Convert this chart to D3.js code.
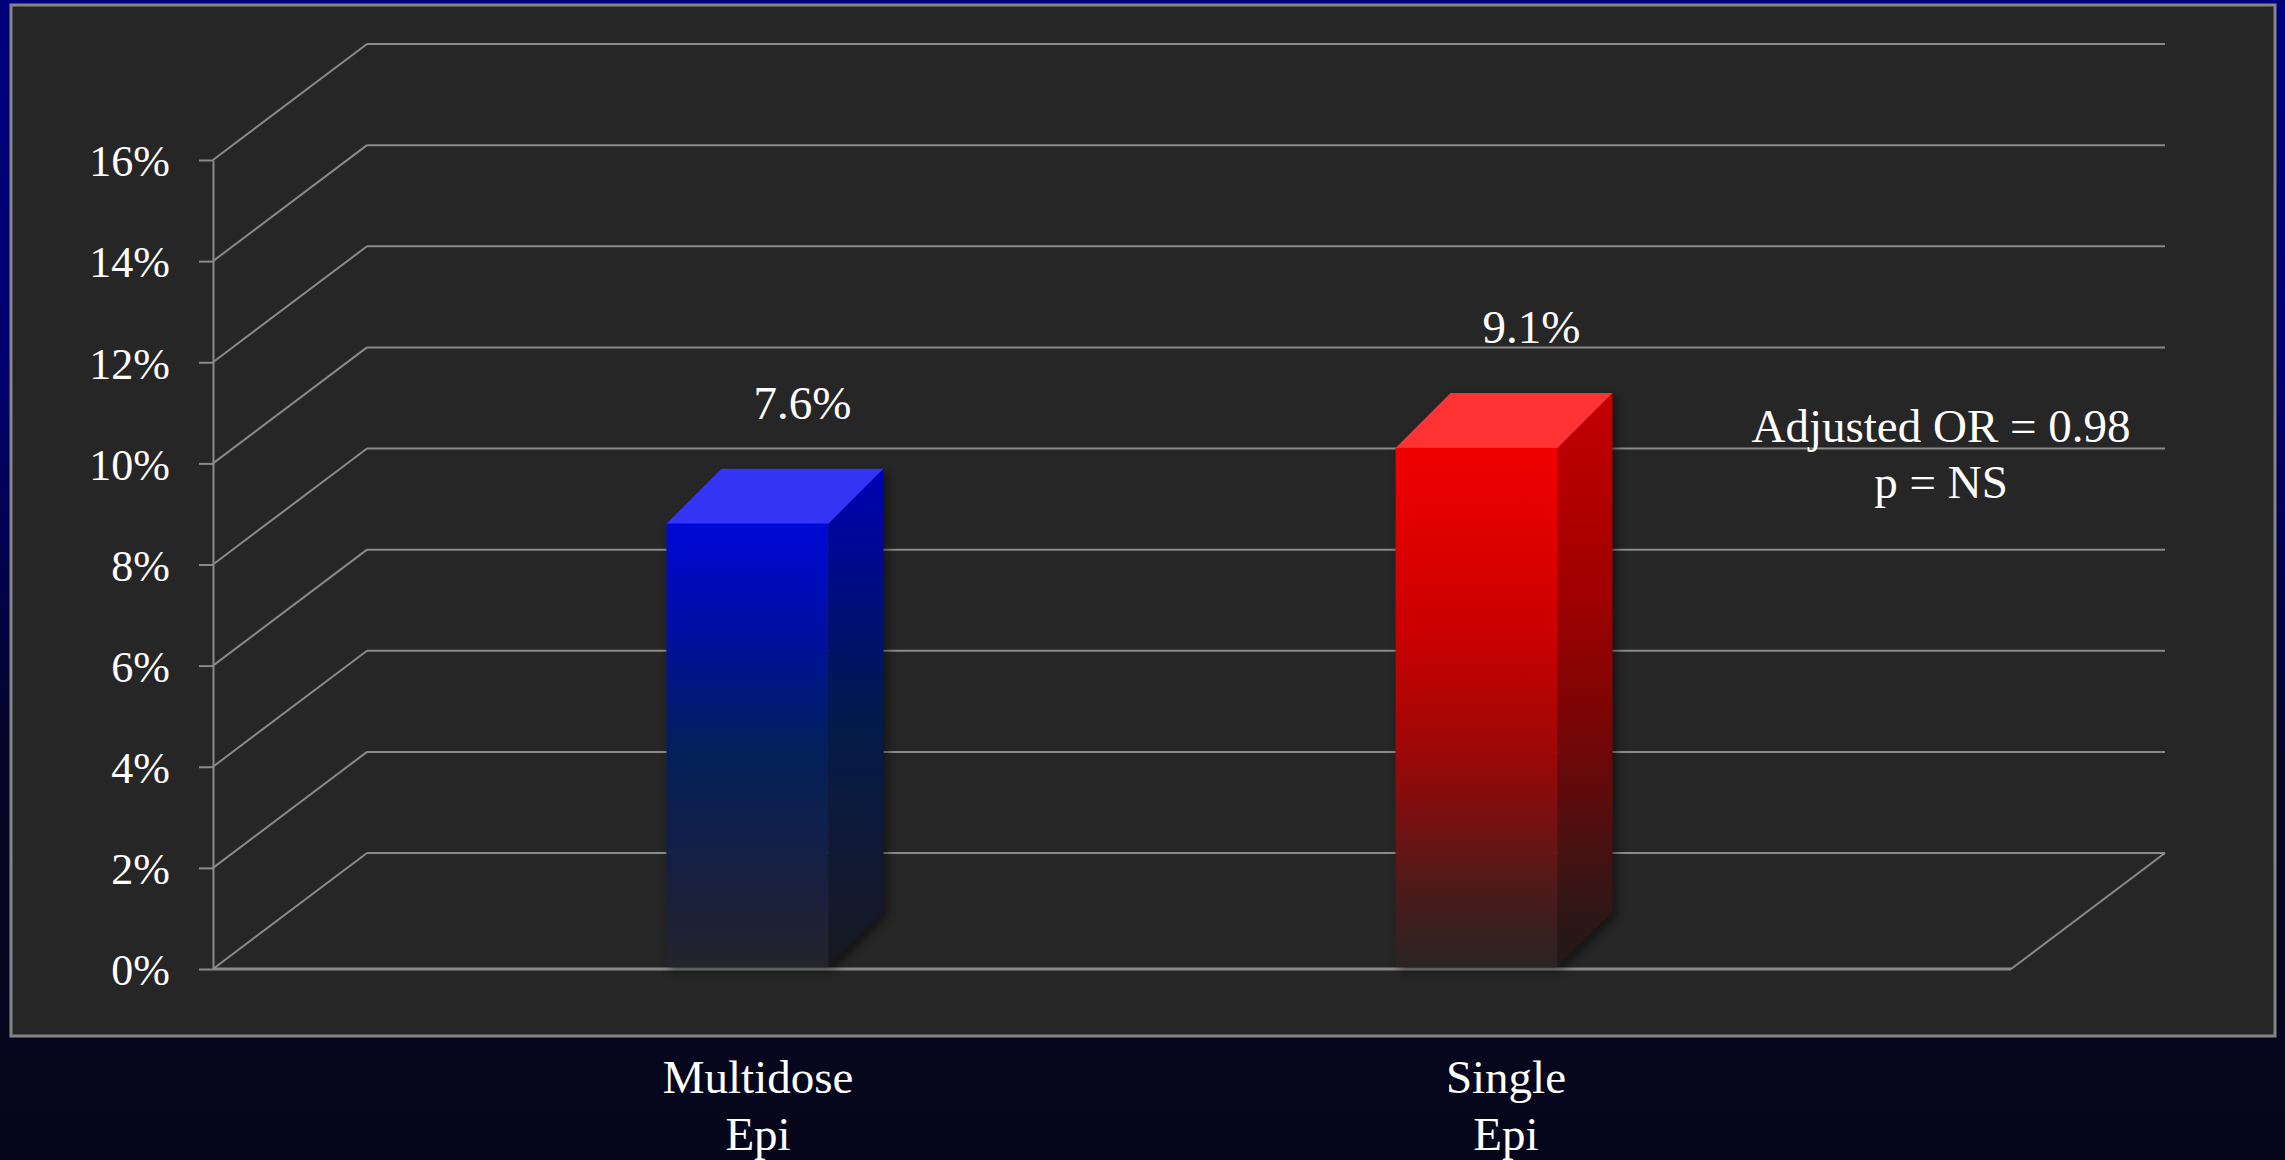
<!DOCTYPE html>
<html>
<head>
<meta charset="utf-8">
<script src="https://cdn.jsdelivr.net/npm/d3@7"></script>
<style>
  html, body { margin: 0; padding: 0; background: #06061a; }
  svg { display: block; }
  text { font-family: "Liberation Serif", "Times New Roman", serif; fill: #ffffff; }
</style>
</head>
<body>
<svg id="chart" width="2285" height="1160"></svg>
<script>
// Chart data
const categories = ["Multidose Epi", "Single Epi"];
const categoryLines = [["Multidose", "Epi"], ["Single", "Epi"]];
const values = [7.6, 9.1];
const valueLabels = ["7.6%", "9.1%"];
const yTicks = [0, 2, 4, 6, 8, 10, 12, 14, 16];
const annotation = ["Adjusted OR = 0.98", "p = NS"];

// Layout
const W = 2285, H = 1160;
const frontX0 = 213, frontX1 = 2011;   // front edge of the floor
const depthX = 154, depthY = 116;      // offset from front edge to back wall
const barW = 162, barDX = 55, barDY = 55;

const svg = d3.select("#chart");
const defs = svg.append("defs");

// Page background
const bg = defs.append("linearGradient").attr("id", "bg")
  .attr("x1", 0).attr("y1", 0).attr("x2", 0).attr("y2", 1);
[[0, "#00007e"], [0.3, "#000070"], [0.5, "#02024a"], [0.65, "#060628"], [1, "#06061a"]]
  .forEach(([o, c]) => bg.append("stop").attr("offset", o).attr("stop-color", c));

// Bar face gradients
function grad(id, stops) {
  const g = defs.append("linearGradient").attr("id", id)
    .attr("x1", 0).attr("y1", 0).attr("x2", 0).attr("y2", 1);
  stops.forEach(([o, c]) => g.append("stop").attr("offset", o).attr("stop-color", c));
}
grad("blueFront", [[0, "#0008d8"], [0.25, "#0010a0"], [0.5, "#02205c"], [0.8, "#181f40"], [1, "#24242c"]]);
grad("blueSide",  [[0, "#0000b4"], [0.25, "#000c80"], [0.5, "#021a4a"], [0.8, "#111832"], [1, "#181820"]]);
grad("redFront",  [[0, "#f00000"], [0.35, "#cc0000"], [0.6, "#9a0808"], [0.85, "#4e1a1a"], [1, "#2a2424"]]);
grad("redSide",   [[0, "#c40000"], [0.35, "#a00000"], [0.6, "#760606"], [0.85, "#3a1414"], [1, "#201818"]]);
const palette = [
  { front: "url(#blueFront)", side: "url(#blueSide)", top: "#3434f4" },
  { front: "url(#redFront)",  side: "url(#redSide)",  top: "#fe3434" }
];

const blur = defs.append("filter").attr("id", "soft")
  .attr("x", "-20%").attr("y", "-20%").attr("width", "140%").attr("height", "140%");
blur.append("feGaussianBlur").attr("stdDeviation", 4);

svg.append("rect").attr("width", W).attr("height", H).attr("fill", "url(#bg)");

// Plot panel
svg.append("rect")
  .attr("x", 11).attr("y", 5).attr("width", 2264).attr("height", 1031)
  .attr("fill", "#262626").attr("stroke", "#858585").attr("stroke-width", 3);

// Scales
const yFront = d3.scaleLinear().domain([0, 16]).range([969, 160]);
const yBack = v => yFront(v) - depthY;
const x = d3.scalePoint().domain(categories).range([frontX0, frontX1]).padding(0.733);
const xLabel = d3.scalePoint().domain(categories).range([frontX0 + 20, frontX1 + 20]).padding(0.702);

const gridColor = "#8a8a8a";
const grid = svg.append("g").attr("fill", "none").attr("stroke", gridColor).attr("stroke-width", 2);

// Back wall gridlines
grid.selectAll("line.back").data(yTicks).join("line").attr("class", "back")
  .attr("x1", frontX0 + depthX).attr("x2", frontX1 + depthX)
  .attr("y1", d => yBack(d)).attr("y2", d => yBack(d));

// Side wall diagonals
grid.selectAll("line.side").data(yTicks).join("line").attr("class", "side")
  .attr("x1", frontX0).attr("y1", d => yFront(d))
  .attr("x2", frontX0 + depthX).attr("y2", d => yBack(d));

// Floor front edge and right edge
grid.append("line")
  .attr("x1", frontX0).attr("x2", frontX1)
  .attr("y1", yFront(0)).attr("y2", yFront(0)).attr("stroke-width", 3);
grid.append("line")
  .attr("x1", frontX1).attr("y1", yFront(0))
  .attr("x2", frontX1 + depthX).attr("y2", yBack(0));

// Vertical axis
const axis = d3.axisLeft(yFront).tickValues(yTicks)
  .tickFormat(d => d + "%").tickSize(14).tickSizeOuter(0).tickPadding(29);
const gAxis = svg.append("g").attr("transform", `translate(${frontX0},0)`).call(axis);
gAxis.select(".domain").attr("stroke", gridColor).attr("stroke-width", 2);
gAxis.selectAll(".tick line").attr("stroke", gridColor).attr("stroke-width", 2);
gAxis.selectAll(".tick text")
  .attr("fill", "#ffffff").attr("font-size", 44)
  .attr("font-family", "Liberation Serif, Times New Roman, serif")
  .attr("dy", "0.36em");

// 3D bars
const bars = svg.append("g").selectAll("g.bar").data(values).join("g").attr("class", "bar");

bars.each(function (v, i) {
  const g = d3.select(this);
  const cx = x(categories[i]);
  const xl = cx - barW / 2, xr = cx + barW / 2;
  const yb = yFront(0) - 2;                // front bottom
  const ytBack = yBack(v);                 // top edge of the back face
  const yt = ytBack + barDY;               // top edge of the front face
  const c = palette[i];
  // soft shadow behind the block
  g.append("path")
    .attr("d", `M${xl + 3},${yt + 3}L${xl + barDX + 3},${ytBack + 3}L${xr + barDX + 4},${ytBack + 3}` +
               `L${xr + barDX + 4},${yb - barDY + 4}L${xr + 4},${yb + 4}L${xl + 3},${yb + 4}Z`)
    .attr("fill", "#000").attr("opacity", 0.45).attr("filter", "url(#soft)");
  // right side face
  g.append("path")
    .attr("d", `M${xr},${yt}L${xr + barDX},${ytBack}L${xr + barDX},${yb - barDY}L${xr},${yb}Z`)
    .attr("fill", c.side);
  // top face
  g.append("path")
    .attr("d", `M${xl},${yt}L${xl + barDX},${ytBack}L${xr + barDX},${ytBack}L${xr},${yt}Z`)
    .attr("fill", c.top);
  // front face
  g.append("rect")
    .attr("x", xl).attr("y", yt).attr("width", barW).attr("height", yb - yt)
    .attr("fill", c.front);
});

// Value labels above the bars
svg.append("g").selectAll("text").data(values).join("text")
  .attr("x", (d, i) => x(categories[i]) + barDX)
  .attr("y", d => yBack(d) - 50)
  .attr("text-anchor", "middle").attr("font-size", 47)
  .text((d, i) => valueLabels[i]);

// Category labels
const cat = svg.append("g").selectAll("text").data(categoryLines).join("text")
  .attr("x", (d, i) => xLabel(categories[i]))
  .attr("y", 1093)
  .attr("text-anchor", "middle").attr("font-size", 47);
cat.selectAll("tspan").data(d => d).join("tspan")
  .attr("x", function () { return d3.select(this.parentNode).attr("x"); })
  .attr("dy", (d, j) => j === 0 ? 0 : 57)
  .text(d => d);

// Statistical annotation
svg.append("text")
  .attr("x", 1941).attr("y", 442)
  .attr("text-anchor", "middle").attr("font-size", 47)
  .selectAll("tspan").data(annotation).join("tspan")
  .attr("x", 1941).attr("dy", (d, j) => j === 0 ? 0 : 56)
  .text(d => d);
</script>
</body>
</html>
